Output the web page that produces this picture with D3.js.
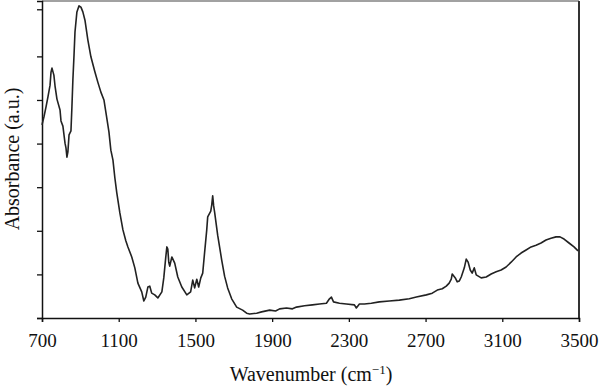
<!DOCTYPE html>
<html>
<head>
<meta charset="utf-8">
<script src="https://cdn.jsdelivr.net/npm/d3@7"></script>
<style>
  html, body { margin: 0; padding: 0; background: #fff; }
  svg { display: block; }
  text { font-family: "Liberation Serif", "DejaVu Serif", serif; fill: #111; }
</style>
</head>
<body>
<svg id="chart" width="600" height="388"></svg>
<script>
// Wavenumber (cm^-1)
const wavenumber = [700,710,721,731,742,747,752,762,768,778,794,799,809,820,825,830,835,841,851,856,861,867,872,882,893,903,913,924,939,955,976,991,1007,1023,1033,1049,1059,1070,1080,1090,1106,1122,1137,1148,1168,1184,1200,1220,1231,1241,1252,1262,1272,1288,1304,1325,1335,1345,1351,1356,1361,1366,1377,1392,1408,1429,1455,1475,1486,1496,1507,1517,1528,1538,1548,1559,1564,1580,1585,1590,1595,1600,1616,1637,1652,1668,1689,1715,1746,1767,1783,1819,1845,1887,1918,1939,1975,2006,2027,2069,2110,2147,2183,2199,2209,2220,2251,2287,2329,2339,2355,2381,2417,2459,2511,2563,2615,2652,2704,2735,2761,2787,2808,2823,2834,2839,2855,2865,2876,2886,2902,2912,2922,2933,2943,2954,2964,2990,3016,3042,3068,3094,3120,3146,3172,3198,3224,3250,3276,3302,3328,3354,3380,3401,3422,3448,3474,3495];
// Absorbance (a.u., arbitrary tick units)
const absorbance = [4.43,4.61,4.84,5.07,5.34,5.64,5.73,5.57,5.32,5.02,4.77,4.52,4.40,4.01,3.90,3.69,3.81,4.20,4.29,4.84,5.46,6.03,6.56,7.02,7.16,7.13,7.02,6.83,6.38,5.99,5.64,5.41,5.18,5.00,4.72,4.27,3.85,3.62,3.21,2.87,2.41,2.02,1.77,1.63,1.40,1.15,0.80,0.60,0.39,0.48,0.71,0.73,0.57,0.53,0.46,0.60,0.92,1.38,1.63,1.58,1.28,1.19,1.40,1.26,0.94,0.71,0.53,0.60,0.87,0.69,0.89,0.71,0.92,1.03,1.51,2.02,2.32,2.45,2.59,2.80,2.57,2.43,1.90,1.33,0.96,0.69,0.44,0.25,0.18,0.11,0.09,0.11,0.14,0.18,0.16,0.21,0.23,0.21,0.25,0.28,0.30,0.32,0.34,0.44,0.48,0.37,0.34,0.32,0.30,0.23,0.32,0.32,0.34,0.37,0.39,0.41,0.44,0.48,0.53,0.57,0.64,0.67,0.73,0.80,0.89,1.01,0.92,0.83,0.85,0.94,1.15,1.35,1.28,1.10,1.03,1.15,0.99,0.92,0.94,1.01,1.06,1.10,1.17,1.28,1.40,1.49,1.56,1.63,1.67,1.72,1.79,1.83,1.86,1.86,1.81,1.72,1.63,1.54];

const xTicks = [700,1100,1500,1900,2300,2700,3100,3500];
const yTicks = [0,1,2,3,4,5,6,7.08];

const svg = d3.select("#chart");
const margin = {left: 42, right: 21, top: 1, bottom: 70};
const W = 600, H = 388;

const x = d3.scaleLinear().domain([700, 3500]).range([margin.left, W - margin.right]);
const y = d3.scaleLinear().domain([0, 7.27]).range([H - margin.bottom, margin.top]);

// frame (top and right)
svg.append("line").attr("x1", x(700)).attr("x2", x(3500)).attr("y1", y(7.27)).attr("y2", y(7.27))
  .attr("stroke", "#444").attr("stroke-width", 1.2);
svg.append("line").attr("x1", x(3500)).attr("x2", x(3500)).attr("y1", y(7.27)).attr("y2", y(0))
  .attr("stroke", "#333").attr("stroke-width", 2);

// x axis
const xAxis = svg.append("g").attr("transform", `translate(0,${y(0)})`)
  .call(d3.axisBottom(x).tickValues(xTicks).tickFormat(d3.format("d")).tickSize(4).tickPadding(12));
xAxis.select(".domain").attr("stroke", "#111").attr("stroke-width", 1.5);
xAxis.selectAll(".tick line").attr("stroke", "#111").attr("stroke-width", 1.3);
xAxis.selectAll("text").style("font-family", '"Liberation Serif", serif').style("font-size", "19px").attr("fill", "#111");

// y axis
const yAxis = svg.append("g").attr("transform", `translate(${x(700)},0)`)
  .call(d3.axisLeft(y).tickValues(yTicks).tickFormat("").tickSize(5));
yAxis.select(".domain").attr("stroke", "#111").attr("stroke-width", 1.5);
yAxis.selectAll(".tick line").attr("stroke", "#111").attr("stroke-width", 1.3);

// curve
const data = wavenumber.map((w, i) => ({w, a: absorbance[i]}));
svg.append("path").datum(data)
  .attr("fill", "none").attr("stroke", "#222").attr("stroke-width", 1.6)
  .attr("stroke-linejoin", "round")
  .attr("d", d3.line().x(d => x(d.w)).y(d => y(d.a)));

// x title
const xt = svg.append("text").attr("x", 311).attr("y", 381).attr("text-anchor", "middle")
  .style("font-size", "20px");
xt.append("tspan").text("Wavenumber (cm");
xt.append("tspan").attr("dy", -7).style("font-size", "13px").text("−1");
xt.append("tspan").attr("dy", 7).text(")");

// y title
svg.append("text").attr("transform", "translate(19,159) rotate(-90)").attr("text-anchor", "middle")
  .style("font-size", "20px").text("Absorbance (a.u.)");
</script>
</body>
</html>
